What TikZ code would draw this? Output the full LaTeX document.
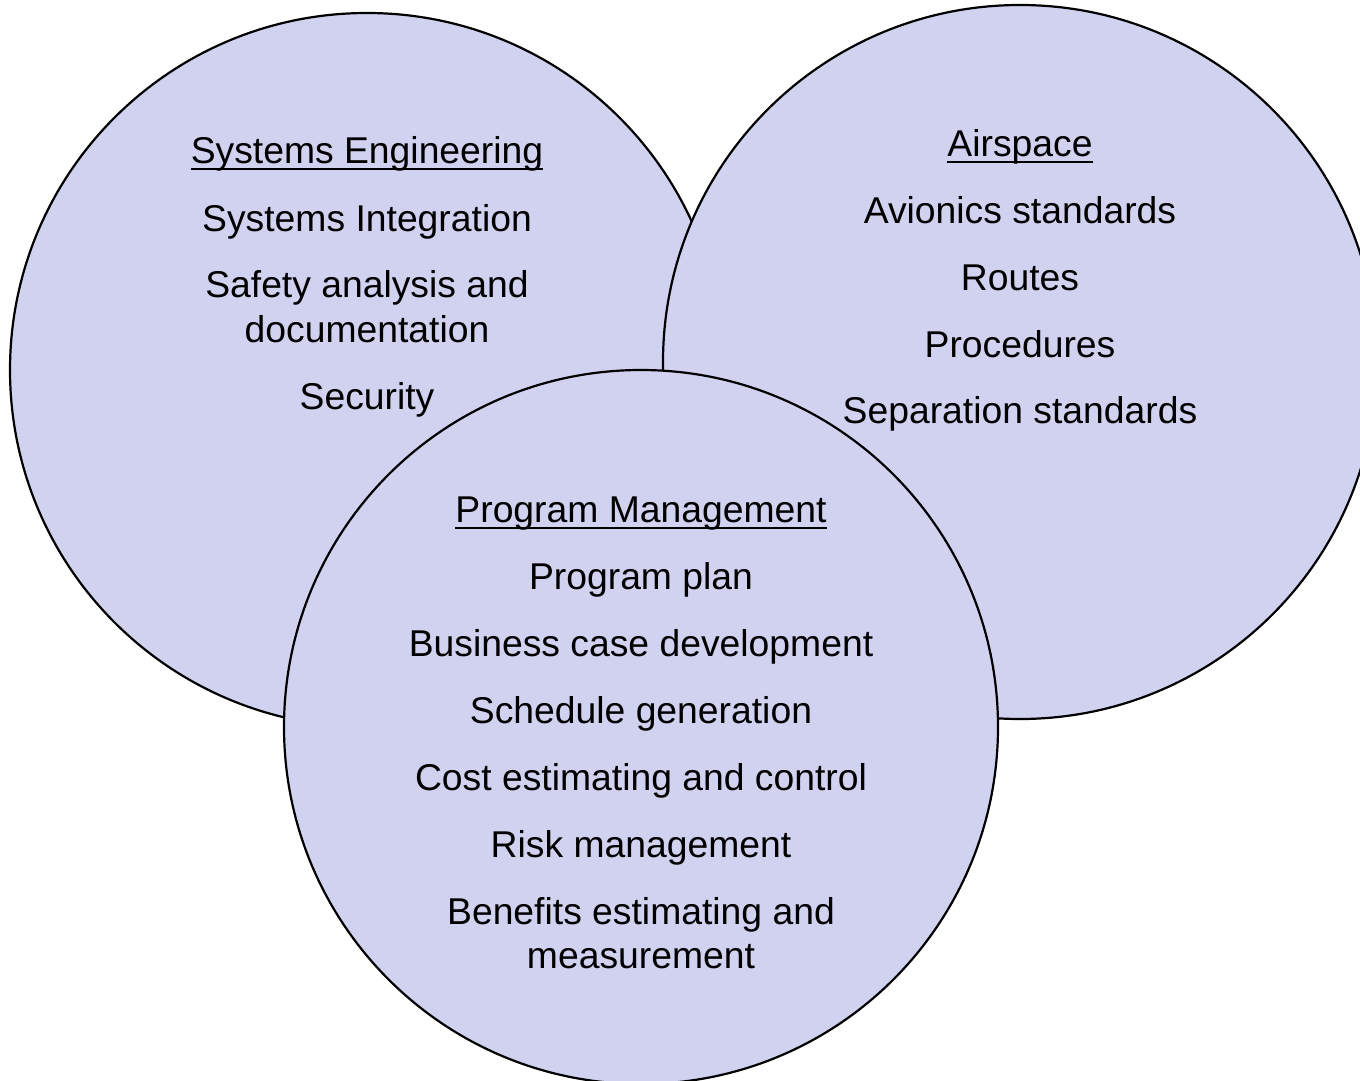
\documentclass[tikz,border=0pt]{standalone}
\usepackage{fontspec}
\setmainfont{Liberation Sans}
\definecolor{lav}{RGB}{208,210,240}
\begin{document}
\begin{tikzpicture}[x=1pt,y=-1pt,
  circ/.style={circle,draw=black,fill=lav,line width=2.2pt,inner sep=0pt,minimum size=714pt},
  txt/.style={anchor=base,inner sep=0pt,font=\fontsize{37.3}{44}\selectfont},
  ul/.style={line width=2.8pt}]
\useasboundingbox (0,0) rectangle (1360,1081);
\clip (0,0) rectangle (1360,1081);
\node[circ] (se) at (367,370) {};
\node[circ] (as) at (1020,362) {};
\node[circ] (pm) at (641,727) {};
% Systems Engineering
\node[txt] (seh) at (367,163) {Systems Engineering};
\node[txt] (se1) at (367,231) {Systems Integration};
\node[txt] (se2) at (367,297) {Safety analysis and};
\node[txt] (se3) at (367,342) {documentation};
\node[txt] (se4) at (367,409) {Security};
% Airspace
\node[txt] (ash) at (1020,156) {Airspace};
\node[txt] (as1) at (1020,223) {Avionics standards};
\node[txt] (as2) at (1020,290) {Routes};
\node[txt] (as3) at (1020,357) {Procedures};
\node[txt] (as4) at (1020,423) {Separation standards};
% Program Management
\node[txt] (pmh) at (641,522) {Program Management};
\node[txt] (pm1) at (641,589) {Program plan};
\node[txt] (pm2) at (641,656) {Business case development};
\node[txt] (pm3) at (641,723) {Schedule generation};
\node[txt] (pm4) at (641,790) {Cost estimating and control};
\node[txt] (pm5) at (641,857) {Risk management};
\node[txt] (pm6) at (641,924) {Benefits estimating and};
\node[txt] (pm7) at (641,968) {measurement};
% underlines
\draw[ul] ([yshift=-6pt]seh.base west) -- ([yshift=-6pt]seh.base east);
\draw[ul] ([yshift=-6pt]ash.base west) -- ([yshift=-6pt]ash.base east);
\draw[ul] ([yshift=-6pt]pmh.base west) -- ([yshift=-6pt]pmh.base east);
\end{tikzpicture}
\end{document}
